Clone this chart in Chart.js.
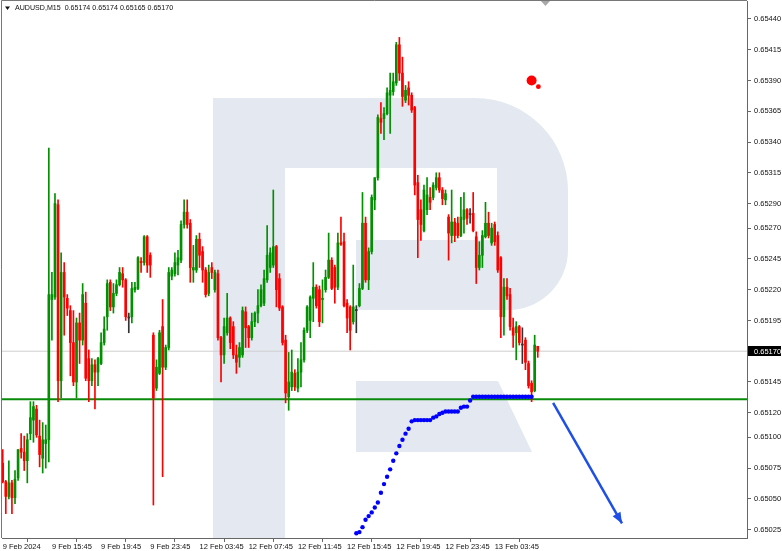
<!DOCTYPE html>
<html>
<head>
<meta charset="utf-8">
<script src="https://cdn.jsdelivr.net/npm/chart.js@4.4.1/dist/chart.umd.min.js"></script>
<style>
  html, body { margin: 0; padding: 0; background: #fff; }
  #wrap { width: 782px; height: 551px; }
</style>
</head>
<body>
<div id="wrap"><canvas id="chart" width="782" height="551"></canvas></div>
<script>
// AUDUSD M15, 9 Feb 11:45 .. 13 Feb 07:15 (one entry per bar)
const symbol = 'AUDUSD,M15';
const timeLabels = ['9 Feb 2024', '9 Feb 15:45', '9 Feb 19:45', '9 Feb 23:45', '12 Feb 03:45', '12 Feb 07:45',
  '12 Feb 11:45', '12 Feb 15:45', '12 Feb 19:45', '12 Feb 23:45', '13 Feb 03:45'];
const barsPerLabel = 16;

const opens = [
  0.65079,0.65064,0.65052,0.65063,0.65051,0.65067,0.65091,0.65088,0.65081,0.65103,
  0.65114,0.65123,0.65101,0.65083,0.65095,0.65098,0.65212,0.65214,0.65289,0.65146,
  0.65234,0.65213,0.65203,0.65177,0.65145,0.65193,0.65179,0.65209,0.65164,0.65146,
  0.65159,0.65153,0.65160,0.65177,0.65198,0.65226,0.65206,0.65217,0.65224,0.65233,
  0.65228,0.65197,0.65198,0.65220,0.65221,0.65243,0.65242,0.65263,0.65248,0.65183,
  0.65140,0.65152,0.65190,0.65157,0.65173,0.65231,0.65233,0.65240,0.65244,0.65273,
  0.65283,0.65274,0.65236,0.65236,0.65261,0.65251,0.65236,0.65217,0.65238,0.65220,
  0.65233,0.65181,0.65167,0.65185,0.65197,0.65190,0.65167,0.65165,0.65167,0.65202,
  0.65190,0.65181,0.65194,0.65201,0.65207,0.65209,0.65228,0.65238,0.65240,0.65255,
  0.65229,0.65206,0.65179,0.65133,0.65141,0.65152,0.65140,0.65153,0.65163,0.65187,
  0.65195,0.65213,0.65222,0.65220,0.65212,0.65220,0.65230,0.65244,0.65238,0.65222,
  0.65258,0.65259,0.65209,0.65206,0.65194,0.65203,0.65207,0.65221,0.65274,0.65228,
  0.65251,0.65293,0.65311,0.65359,0.65359,0.65363,0.65378,0.65381,0.65388,0.65419,
  0.65396,0.65374,0.65384,0.65378,0.65368,0.65307,0.65285,0.65268,0.65285,0.65295,
  0.65295,0.65303,0.65311,0.65301,0.65293,0.65279,0.65264,0.65275,0.65274,0.65264,
  0.65277,0.65285,0.65281,0.65282,0.65263,0.65238,0.65248,0.65263,0.65274,0.65258,
  0.65273,0.65264,0.65246,0.65198,0.65222,0.65216,0.65189,0.65185,0.65190,0.65175,
  0.65179,0.65160,0.65144,0.65138,0.65174
];
const highs = [
  0.65090,0.65065,0.65081,0.65065,0.65073,0.65090,0.65103,0.65101,0.65103,0.65129,
  0.65129,0.65126,0.65114,0.65112,0.65110,0.65335,0.65234,0.65298,0.65293,0.65250,
  0.65242,0.65216,0.65207,0.65203,0.65197,0.65201,0.65225,0.65218,0.65171,0.65164,
  0.65163,0.65165,0.65185,0.65198,0.65228,0.65228,0.65225,0.65228,0.65238,0.65238,
  0.65229,0.65201,0.65226,0.65226,0.65247,0.65246,0.65264,0.65264,0.65250,0.65185,
  0.65163,0.65187,0.65212,0.65175,0.65238,0.65238,0.65250,0.65252,0.65276,0.65293,
  0.65293,0.65277,0.65256,0.65264,0.65266,0.65255,0.65238,0.65240,0.65242,0.65236,
  0.65236,0.65182,0.65197,0.65217,0.65198,0.65194,0.65175,0.65177,0.65206,0.65206,
  0.65191,0.65201,0.65202,0.65220,0.65224,0.65236,0.65272,0.65254,0.65301,0.65256,
  0.65233,0.65207,0.65183,0.65169,0.65171,0.65155,0.65164,0.65177,0.65189,0.65207,
  0.65215,0.65242,0.65224,0.65223,0.65228,0.65236,0.65266,0.65246,0.65240,0.65266,
  0.65279,0.65266,0.65212,0.65207,0.65240,0.65207,0.65225,0.65299,0.65279,0.65254,
  0.65297,0.65311,0.65362,0.65372,0.65368,0.65384,0.65396,0.65396,0.65421,0.65425,
  0.65409,0.65386,0.65389,0.65380,0.65369,0.65313,0.65293,0.65305,0.65311,0.65303,
  0.65307,0.65315,0.65315,0.65303,0.65301,0.65281,0.65301,0.65278,0.65279,0.65295,
  0.65299,0.65286,0.65286,0.65299,0.65267,0.65259,0.65268,0.65291,0.65283,0.65274,
  0.65275,0.65267,0.65247,0.65229,0.65229,0.65221,0.65197,0.65194,0.65191,0.65189,
  0.65181,0.65162,0.65146,0.65183,0.65174
];
const lows = [
  0.65063,0.65038,0.65050,0.65038,0.65046,0.65065,0.65083,0.65073,0.65063,0.65098,
  0.65096,0.65100,0.65076,0.65071,0.65075,0.65080,0.65179,0.65212,0.65129,0.65132,
  0.65183,0.65199,0.65150,0.65142,0.65132,0.65160,0.65175,0.65146,0.65129,0.65142,
  0.65123,0.65142,0.65159,0.65175,0.65187,0.65203,0.65201,0.65215,0.65223,0.65222,
  0.65195,0.65185,0.65193,0.65218,0.65220,0.65234,0.65240,0.65234,0.65230,0.65045,
  0.65138,0.65151,0.65068,0.65155,0.65171,0.65228,0.65231,0.65232,0.65242,0.65270,
  0.65270,0.65226,0.65226,0.65234,0.65238,0.65226,0.65214,0.65215,0.65229,0.65218,
  0.65179,0.65145,0.65160,0.65183,0.65172,0.65164,0.65152,0.65157,0.65165,0.65173,
  0.65173,0.65179,0.65190,0.65193,0.65206,0.65207,0.65226,0.65234,0.65238,0.65206,
  0.65203,0.65175,0.65128,0.65122,0.65138,0.65138,0.65137,0.65141,0.65161,0.65185,
  0.65181,0.65194,0.65205,0.65190,0.65193,0.65218,0.65229,0.65220,0.65209,0.65220,
  0.65256,0.65206,0.65185,0.65171,0.65192,0.65185,0.65206,0.65220,0.65226,0.65220,
  0.65249,0.65285,0.65309,0.65347,0.65342,0.65362,0.65347,0.65378,0.65386,0.65390,
  0.65369,0.65372,0.65370,0.65364,0.65297,0.65246,0.65260,0.65267,0.65281,0.65285,
  0.65293,0.65301,0.65299,0.65289,0.65289,0.65244,0.65258,0.65259,0.65262,0.65263,
  0.65266,0.65273,0.65274,0.65267,0.65225,0.65236,0.65238,0.65262,0.65262,0.65256,
  0.65256,0.65234,0.65181,0.65183,0.65212,0.65187,0.65173,0.65163,0.65175,0.65160,
  0.65155,0.65140,0.65129,0.65137,0.65165
];
const closes = [
  0.65064,0.65052,0.65063,0.65051,0.65066,0.65090,0.65088,0.65081,0.65098,0.65116,
  0.65125,0.65102,0.65086,0.65098,0.65098,0.65216,0.65216,0.65290,0.65146,0.65234,
  0.65214,0.65205,0.65177,0.65145,0.65193,0.65179,0.65216,0.65148,0.65146,0.65159,
  0.65153,0.65164,0.65177,0.65188,0.65225,0.65206,0.65217,0.65224,0.65234,0.65228,
  0.65198,0.65197,0.65221,0.65222,0.65246,0.65242,0.65263,0.65240,0.65240,0.65132,
  0.65157,0.65185,0.65157,0.65173,0.65234,0.65236,0.65242,0.65246,0.65273,0.65283,
  0.65273,0.65238,0.65238,0.65261,0.65248,0.65236,0.65216,0.65234,0.65234,0.65234,
  0.65181,0.65167,0.65190,0.65197,0.65177,0.65167,0.65161,0.65173,0.65203,0.65189,
  0.65181,0.65194,0.65201,0.65207,0.65220,0.65229,0.65248,0.65250,0.65255,0.65220,
  0.65205,0.65177,0.65136,0.65145,0.65153,0.65141,0.65153,0.65163,0.65187,0.65206,
  0.65214,0.65222,0.65207,0.65194,0.65213,0.65230,0.65244,0.65221,0.65222,0.65258,
  0.65257,0.65207,0.65197,0.65187,0.65206,0.65203,0.65221,0.65274,0.65228,0.65251,
  0.65295,0.65311,0.65360,0.65356,0.65363,0.65380,0.65382,0.65389,0.65419,0.65396,
  0.65377,0.65382,0.65378,0.65366,0.65305,0.65277,0.65273,0.65301,0.65297,0.65291,
  0.65305,0.65311,0.65301,0.65294,0.65298,0.65266,0.65275,0.65264,0.65264,0.65279,
  0.65285,0.65278,0.65281,0.65268,0.65238,0.65248,0.65264,0.65274,0.65264,0.65270,
  0.65259,0.65236,0.65198,0.65222,0.65215,0.65190,0.65183,0.65190,0.65177,0.65175,
  0.65161,0.65142,0.65137,0.65175,0.65170
];

// blue dotted indicator, starts at bar 115
const dotStart = 115;
const dotValues = [
  0.65022,0.65023,0.65027,0.65033,0.65036,0.65039,0.65043,0.65047,0.65055,0.65062,
  0.65068,0.65074,0.65081,0.65087,0.65093,0.65098,0.65103,0.65107,0.65113,0.65114,
  0.65114,0.65114,0.65114,0.65114,0.65114,0.65116,0.65117,0.65119,0.65120,0.65121,
  0.65121,0.65121,0.65121,0.65121,0.65124,0.65125,0.65125,0.65130,0.65133,0.65133,
  0.65133,0.65133,0.65133,0.65133,0.65133,0.65133,0.65133,0.65133,0.65133,0.65133,
  0.65133,0.65133,0.65133,0.65133,0.65133,0.65133,0.65133,0.65133
];

// drawn objects
const supportLevel = 0.65131;
const arrowBars = [179, 201.4];
const arrowPrices = [0.65128, 0.65030];
const signalBars = [172, 174.2];
const signalPrices = [0.65390, 0.65385];
const signalSizes = [5, 2.4];
const shiftBar = 176.5;

// price axis
const priceTicks = [0.65440, 0.65415, 0.65390, 0.65365, 0.65340, 0.65315, 0.65290, 0.65270, 0.65245,
  0.65220, 0.65195, 0.65170, 0.65145, 0.65120, 0.65100, 0.65075, 0.65050, 0.65025];
const yMin = 0.650182, yMax = 0.654546;
const xMin = -0.23, xMax = 242.05;

const FONT = "'Liberation Sans', Arial, sans-serif";
const GREEN = '#009000', RED = '#ff0000', DOJI = '#333333';

const idx = opens.map((_, i) => i);
const lastClose = closes[closes.length - 1];
const barColors = idx.map(i => closes[i] > opens[i] ? GREEN : (closes[i] < opens[i] ? RED : DOJI));

// RoboForex style R watermark behind the candles
const watermark = {
  id: 'watermark',
  beforeDatasetsDraw(chart) {
    const ctx = chart.ctx, a = chart.chartArea;
    ctx.save();
    ctx.beginPath();
    ctx.rect(a.left, a.top, a.right - a.left, a.bottom - a.top);
    ctx.clip();
    ctx.fillStyle = '#e4e9f1';
    ctx.fillRect(213, 98, 72, 445);
    ctx.beginPath();
    ctx.moveTo(285, 98);
    ctx.lineTo(475, 98);
    ctx.arcTo(568, 98, 568, 191, 93);
    ctx.lineTo(568, 250);
    ctx.arcTo(568, 310, 508, 310, 60);
    ctx.lineTo(356, 310);
    ctx.lineTo(356, 240);
    ctx.lineTo(497, 240);
    ctx.lineTo(497, 168);
    ctx.lineTo(285, 168);
    ctx.closePath();
    ctx.fill();
    ctx.beginPath();
    ctx.moveTo(356, 381);
    ctx.lineTo(498, 381);
    ctx.lineTo(532, 452);
    ctx.lineTo(356, 452);
    ctx.closePath();
    ctx.fill();
    ctx.restore();
  }
};

// arrow head on the forecast line
const arrowHead = {
  id: 'arrowHead',
  afterDatasetsDraw(chart) {
    const meta = chart.getDatasetMeta(5);
    const p0 = meta.data[0], p1 = meta.data[1];
    const ang = Math.atan2(p1.y - p0.y, p1.x - p0.x);
    const len = 11, half = 4.5;
    const ctx = chart.ctx;
    const bx = p1.x - len * Math.cos(ang), by = p1.y - len * Math.sin(ang);
    ctx.save();
    ctx.fillStyle = '#1f4fe6';
    ctx.beginPath();
    ctx.moveTo(p1.x, p1.y);
    ctx.lineTo(bx + half * Math.sin(ang), by - half * Math.cos(ang));
    ctx.lineTo(bx - half * Math.sin(ang), by + half * Math.cos(ang));
    ctx.closePath();
    ctx.fill();
    ctx.restore();
  }
};

// frame, header text, shift marker and current price box
const chrome = {
  id: 'chrome',
  afterDraw(chart) {
    const ctx = chart.ctx, a = chart.chartArea;
    const ys = chart.scales.y, xs = chart.scales.x;
    ctx.save();
    ctx.strokeStyle = '#777';
    ctx.lineWidth = 1;
    ctx.beginPath();
    ctx.moveTo(1.5, a.bottom);
    ctx.lineTo(1.5, 0.5);
    ctx.lineTo(a.right, 0.5);
    ctx.stroke();

    // header
    ctx.fillStyle = '#111';
    ctx.beginPath();
    ctx.moveTo(5, 6.5); ctx.lineTo(10, 6.5); ctx.lineTo(7.5, 10);
    ctx.closePath();
    ctx.fill();
    ctx.font = '7.1px ' + FONT;
    ctx.textBaseline = 'middle';
    const n = closes.length - 1;
    const ohlc = [opens[n], highs[n], lows[n], closes[n]].map(v => v.toFixed(5)).join(' ');
    ctx.fillText(symbol + '  ' + ohlc, 15, 8.5);

    // chart shift marker
    const sx = xs.getPixelForValue(shiftBar);
    ctx.fillStyle = '#a8a8a8';
    ctx.beginPath();
    ctx.moveTo(sx - 4.5, 1); ctx.lineTo(sx + 4.5, 1); ctx.lineTo(sx, 6);
    ctx.closePath();
    ctx.fill();

    // current price label
    ctx.font = '7.5px ' + FONT;
    const py = Math.round(ys.getPixelForValue(lastClose));
    ctx.fillStyle = '#000';
    ctx.fillRect(a.right + 1, py - 5, 782 - a.right - 2, 10);
    ctx.fillStyle = '#fff';
    ctx.fillText(lastClose.toFixed(5), a.right + 7, py + 0.5);
    ctx.restore();
  }
};

const ctx = document.getElementById('chart').getContext('2d');
new Chart(ctx, {
  type: 'bar',
  data: {
    datasets: [
      {
        label: 'wicks',
        data: idx.map(i => ({ x: i, y: [lows[i], highs[i]] })),
        backgroundColor: barColors,
        barThickness: 1,
        grouped: false,
        order: 3
      },
      {
        label: 'bodies',
        data: idx.map(i => ({ x: i, y: [opens[i], closes[i]] })),
        backgroundColor: barColors,
        barThickness: 2,
        minBarLength: 1,
        grouped: false,
        order: 2
      },
      {
        type: 'line',
        label: 'support',
        data: [{ x: xMin, y: supportLevel }, { x: xMax, y: supportLevel }],
        borderColor: '#0a8a0a',
        borderWidth: 2,
        pointRadius: 0,
        order: 4
      },
      {
        type: 'line',
        label: 'price',
        data: [{ x: xMin, y: lastClose }, { x: xMax, y: lastClose }],
        borderColor: '#cfcfcf',
        borderWidth: 1,
        pointRadius: 0,
        order: 6
      },
      {
        type: 'line',
        label: 'indicator',
        data: dotValues.map((v, k) => ({ x: dotStart + k, y: v })),
        showLine: false,
        pointRadius: 2.2,
        pointBackgroundColor: '#0000ff',
        pointBorderWidth: 0,
        order: 1
      },
      {
        type: 'line',
        label: 'forecast',
        data: arrowBars.map((b, k) => ({ x: b, y: arrowPrices[k] })),
        borderColor: '#1f4fe6',
        borderWidth: 2.5,
        pointRadius: 0,
        order: 1
      },
      {
        type: 'line',
        label: 'signal',
        data: signalBars.map((b, k) => ({ x: b, y: signalPrices[k] })),
        showLine: false,
        pointRadius: signalSizes,
        pointBackgroundColor: '#ff0000',
        pointBorderWidth: 0,
        order: 1
      }
    ]
  },
  options: {
    responsive: false,
    animation: false,
    events: [],
    layout: { autoPadding: false, padding: { left: 2, top: 1, right: 0, bottom: 0 } },
    plugins: { legend: { display: false }, tooltip: { enabled: false } },
    scales: {
      x: {
        type: 'linear',
        min: xMin,
        max: xMax,
        offset: false,
        grid: { drawOnChartArea: false, tickLength: 4, color: '#666' },
        border: { color: '#666' },
        afterBuildTicks: s => { s.ticks = timeLabels.map((_, k) => ({ value: k * barsPerLabel })); },
        afterFit: s => { s.height = 13; s.paddingLeft = 0; s.paddingRight = 0; },
        ticks: {
          autoSkip: false,
          maxRotation: 0,
          align: 'start',
          padding: 0,
          color: '#111',
          font: { family: FONT, size: 7.5 },
          callback: v => timeLabels[Math.round(v / barsPerLabel)]
        }
      },
      y: {
        type: 'linear',
        position: 'right',
        min: yMin,
        max: yMax,
        grid: { drawOnChartArea: false, tickLength: 4, color: '#666' },
        border: { color: '#666' },
        afterBuildTicks: s => { s.ticks = priceTicks.slice().reverse().map(v => ({ value: v })); },
        afterFit: s => { s.width = 35; s.paddingTop = 0; s.paddingBottom = 0; },
        ticks: {
          autoSkip: false,
          padding: 3,
          color: '#111',
          font: { family: FONT, size: 7.5 },
          callback: v => v.toFixed(5)
        }
      }
    }
  },
  plugins: [watermark, arrowHead, chrome]
});
</script>
</body>
</html>
